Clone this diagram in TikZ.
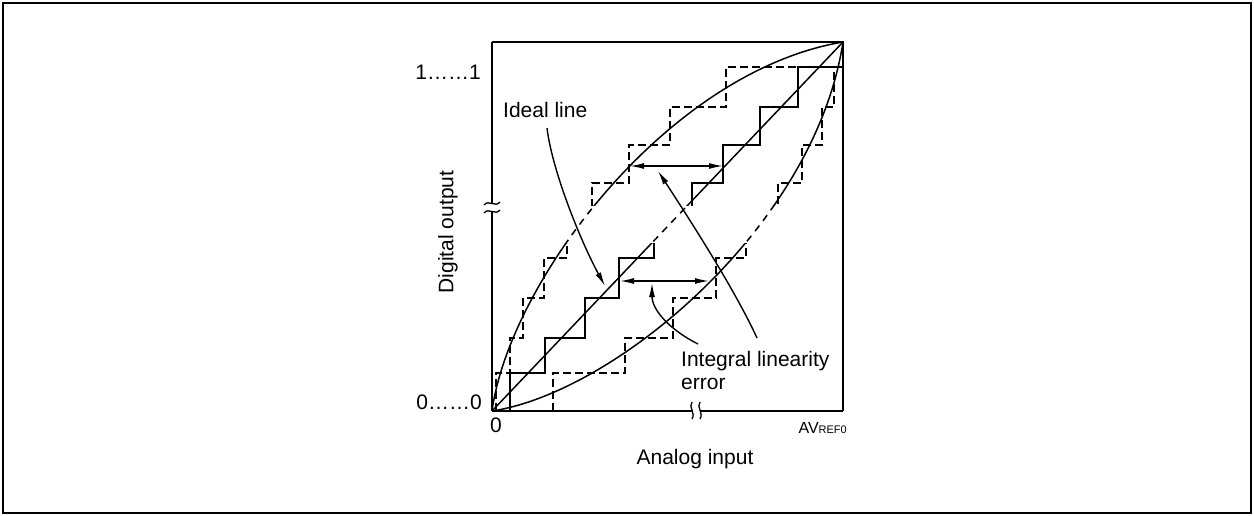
\documentclass[tikz,border=0pt]{standalone}
\usepackage{fontspec}
\setmainfont{Liberation Sans}
\usetikzlibrary{arrows.meta}
\newcommand\mystairs{%
  \draw[ln] (510,411) -- (510,373) -- (545,373) -- (545,338) -- (585,338) -- (585,298) -- (619,298) -- (619,258) -- (654,258) -- (654,220) -- (692,220) -- (692,183) -- (723,183) -- (723,145) -- (760,145) -- (760,107) -- (798,107) -- (798,67) -- (843,67);
  \draw[dsh] (496,411) -- (496,373) -- (510,373) -- (510,338) -- (523,338) -- (523,298) -- (544,298) -- (544,258) -- (567,258) -- (567,220) -- (592,220) -- (592,183) -- (629,183) -- (629,145) -- (670,145) -- (670,107) -- (726,107) -- (726,67) -- (798,67);
  \draw[dsh] (553,411) -- (553,373) -- (625,373) -- (625,338) -- (673,338) -- (673,298) -- (716,298) -- (716,258) -- (746,258) -- (746,220) -- (778,220) -- (778,183) -- (802,183) -- (802,145) -- (822,145) -- (822,107) -- (834,107) -- (834,67) -- (843,67);
}
\newcommand\mycurves[1]{%
  \draw[#1] (O) .. controls (509.6,281.9) and (667.5,71.5) .. (T);
  \draw[#1] (O) .. controls (614.9,392.6) and (814.9,226.5) .. (T);
  \draw[#1] (O) -- (T);
}
\begin{document}
\begin{tikzpicture}[x=1pt,y=-1pt,
  lbl/.style={inner sep=0pt, font=\fontsize{21}{24}\selectfont},
  ln/.style={line width=1.5pt, line join=miter},
  dsh/.style={ln, dash pattern=on 8pt off 4pt},
  bandd/.style={ln, dash pattern=on 7pt off 6pt},
  leader/.style={line width=1.4pt, -{Latex[length=14pt,width=6pt]}},
  dbl/.style={line width=1.4pt, {Latex[length=14pt,width=6pt]}-{Latex[length=14pt,width=6pt]}},
  brk/.style={line width=1.3pt}]
\useasboundingbox (0,0) rectangle (1254,516);
\draw[line width=2pt] (3,3) rectangle (1251,513);

\coordinate (O) at (492,411);
\coordinate (T) at (843,42);

% box and axes
\draw[ln] (492,42) -- (843,42) -- (843,411);
\draw[ln] (492,42) -- (492,203);
\draw[ln] (492,211) -- (O);
\draw[ln] (O) -- (692,411);
\draw[ln] (700,411) -- (843,411);
% axis breaks
\draw[brk] (484,205) .. controls (489,199) and (495,208) .. (500,202);
\draw[brk] (484,213) .. controls (489,207) and (495,216) .. (500,210);
\draw[brk] (692,402) .. controls (688,407) and (696,413) .. (692,419);
\draw[brk] (700,402) .. controls (696,407) and (704,413) .. (700,419);

% outside band: solid curves and stairs
\begin{scope}
  \clip (0,0) rectangle (1254,206);
  \mycurves{ln}
  \mystairs
\end{scope}
\begin{scope}
  \clip (0,243) rectangle (1254,516);
  \mycurves{ln}
  \mystairs
\end{scope}
% inside band: dashed curves
\begin{scope}
  \clip (0,206) rectangle (1254,243);
  \mycurves{bandd}
\end{scope}

% labels
\node[lbl, anchor=base east] (one) at (481,80) {1……1};
\node[lbl, anchor=base east] (zero) at (482,409) {0……0};
\node[lbl, anchor=base] (xzero) at (496,432) {0};
\node[inner sep=0pt, anchor=base east] (avref) at (847,433) {\fontsize{16}{18}\selectfont AV\fontsize{11}{13}\selectfont REF0};
\node[lbl, anchor=base] (xlab) at (695,464) {Analog input};
\node[lbl, rotate=90] (ylab) at (448,232) {Digital output};
\node[lbl, anchor=base west] (ideal) at (503,118) {Ideal line};
\node[lbl, anchor=base west] (ile1) at (681,366) {Integral linearity};
\node[lbl, anchor=base west] (ile2) at (681,389) {error};

% arrows
\coordinate (ua) at (630,166);
\coordinate (ub) at (723,166);
\coordinate (la) at (620,281);
\coordinate (lb) at (709,281);
\draw[dbl] (ua) -- (ub);
\draw[dbl] (la) -- (lb);

% leaders
\coordinate (ideals) at (547,128);
\coordinate (idealt) at (605,286);
\draw[leader] (ideals) .. controls (552,170) and (580,240) .. (idealt);
\coordinate (e1s) at (757,338);
\coordinate (e1t) at (658,171);
\draw[leader] (e1s) .. controls (735,290) and (690,220) .. (e1t);
\coordinate (e2s) at (698,344);
\coordinate (e2t) at (652,283);
\draw[leader] (e2s) .. controls (670,330) and (652,310) .. (e2t);
\end{tikzpicture}
\end{document}
